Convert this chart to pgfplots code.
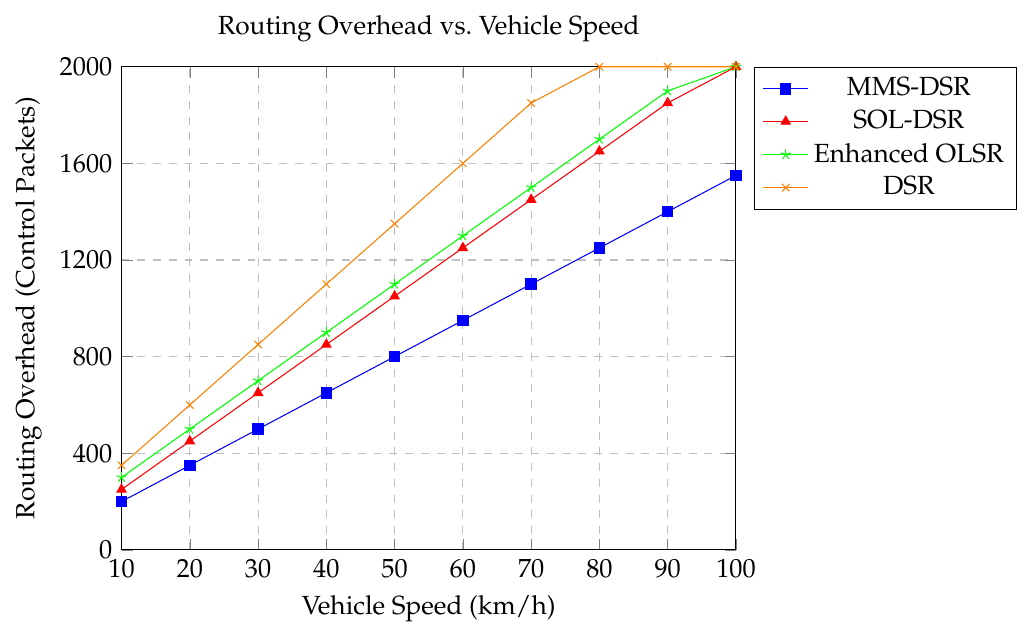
\documentclass[border=0pt]{standalone}
\usepackage[T1]{fontenc}
\usepackage{mathpazo}
\usepackage{pgfplots}
\pgfplotsset{compat=1.18}
\begin{document}
\begin{tikzpicture}
\begin{axis}[
  scale only axis,
  width=234pt, height=184pt,
  xmin=10, xmax=100, ymin=0, ymax=2000,
  xtick={10,20,...,100},
  ytick={0,400,800,1200,1600,2000},
  title={Routing Overhead vs.\ Vehicle Speed},
  xlabel={Vehicle Speed (km/h)},
  ylabel={Routing Overhead (Control Packets)},
  grid=major,
  major grid style={dashed, gray!50},
  legend style={at={(1.03,1)}, anchor=north west},
  legend cell align=center,
  scaled y ticks=false,
  yticklabel style={/pgf/number format/1000 sep={}},
]
\addplot[blue, mark=square*] coordinates {(10,200)(20,350)(30,500)(40,650)(50,800)(60,950)(70,1100)(80,1250)(90,1400)(100,1550)};
\addlegendentry{MMS-DSR}
\addplot[red, mark=triangle*] coordinates {(10,250)(20,450)(30,650)(40,850)(50,1050)(60,1250)(70,1450)(80,1650)(90,1850)(100,2000)};
\addlegendentry{SOL-DSR}
\addplot[green, mark=star] coordinates {(10,300)(20,500)(30,700)(40,900)(50,1100)(60,1300)(70,1500)(80,1700)(90,1900)(100,2000)};
\addlegendentry{Enhanced OLSR}
\addplot[orange, mark=x] coordinates {(10,350)(20,600)(30,850)(40,1100)(50,1350)(60,1600)(70,1850)(80,2000)(90,2000)(100,2000)};
\addlegendentry{DSR}
\end{axis}
\path ([shift={(-2.5pt,-2.5pt)}]current bounding box.south west) ([shift={(2.5pt,2.5pt)}]current bounding box.north east);
\end{tikzpicture}
\end{document}
